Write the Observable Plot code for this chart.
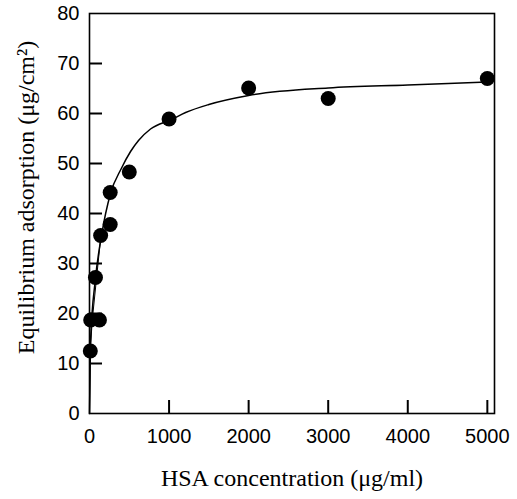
<!DOCTYPE html>
<html>
<head>
<meta charset="utf-8">
<script src="https://cdn.jsdelivr.net/npm/d3@7"></script>
<script src="https://cdn.jsdelivr.net/npm/@observablehq/plot@0.6"></script>
<style>
  html, body { margin: 0; padding: 0; background: #fff; }
  svg { font-family: "Liberation Sans", Arial, sans-serif; }
</style>
</head>
<body>
<div id="chart"></div>
<script>
// Measured points
const concX = [10, 15, 125, 75, 140, 260, 260, 500, 1000, 2000, 3000, 5000];
const adsY  = [12.5, 18.7, 18.7, 27.2, 35.6, 37.8, 44.2, 48.3, 58.9, 65.1, 63.0, 67.0];

// Fitted curve
const curveX = [0, 12, 75, 150, 264, 400, 516, 616, 767, 1031, 1208, 1500, 2000, 3000, 4000, 5000];
const curveY = [0, 14, 27, 35.5, 44, 49, 52.4, 54.6, 56.9, 58.8, 60.2, 61.8, 63.6, 65.1, 65.7, 66.3];

// Secondary thin line near origin
const line2X = [0, 10, 34, 142];
const line2Y = [0, 12.5, 18.6, 35.4];

const xTickLabels = [0, 1000, 2000, 3000, 4000, 5000];
const xTickMarks = [1000, 2000, 3000, 4000, 5000];
const yTickLabels = [0, 10, 20, 30, 40, 50, 60, 70, 80];
const yTickMarks = [10, 20, 30, 40, 50, 60, 70];

const xLabel = "HSA concentration (\u03bcg/ml)";
const yLabel = "Equilibrium adsorption (\u03bcg/cm\u00b2)";

const points = concX.map((x, i) => ({x, y: adsY[i]}));
const curve = curveX.map((x, i) => ({x, y: curveY[i]}));
const line2 = line2X.map((x, i) => ({x, y: line2Y[i]}));

const serif = "Liberation Serif, Times New Roman, serif";
const W = 517, H = 499, mL = 89, mR = 23, mT = 13, mB = 86, tickLen = 13;

const chart = Plot.plot({
  width: W,
  height: H,
  marginLeft: mL,
  marginRight: mR,
  marginTop: mT,
  marginBottom: mB,
  style: {fontFamily: "Liberation Sans, Arial, sans-serif", fontSize: "20px", color: "#000", background: "#fff"},
  x: {domain: [0, 5090]},
  y: {domain: [0, 80]},
  marks: [
    Plot.axisY({ticks: yTickLabels, tickSize: 0, tickPadding: 10, label: null, fontSize: 20}),
    Plot.axisX({ticks: xTickLabels, tickSize: 0, tickPadding: 15, label: null, fontSize: 20, tickFormat: d3.format("d")}),
    Plot.frame({stroke: "#000", fill: "none", strokeWidth: 1.6}),
    Plot.tickY(yTickMarks, {y: d => d, insetRight: (W - mL - mR) - tickLen, stroke: "#000", strokeWidth: 2}),
    Plot.tickX(xTickMarks, {x: d => d, insetTop: (H - mT - mB) - tickLen, stroke: "#000", strokeWidth: 2}),
    Plot.line(line2, {x: "x", y: "y", stroke: "#000", strokeWidth: 1}),
    Plot.line(curve, {x: "x", y: "y", stroke: "#000", strokeWidth: 1.5, curve: "monotone-x"}),
    Plot.dot(points, {x: "x", y: "y", r: 7.5, fill: "#000", stroke: "none"}),
    Plot.text([xLabel], {frameAnchor: "bottom", dy: 72, textAnchor: "middle", fontFamily: serif, fontSize: 24, fill: "#000"}),
    Plot.text([yLabel], {frameAnchor: "left", dx: -63, dy: -16, rotate: -90, textAnchor: "middle", fontFamily: serif, fontSize: 24, fill: "#000"})
  ]
});
document.getElementById("chart").appendChild(chart);
</script>
</body>
</html>
